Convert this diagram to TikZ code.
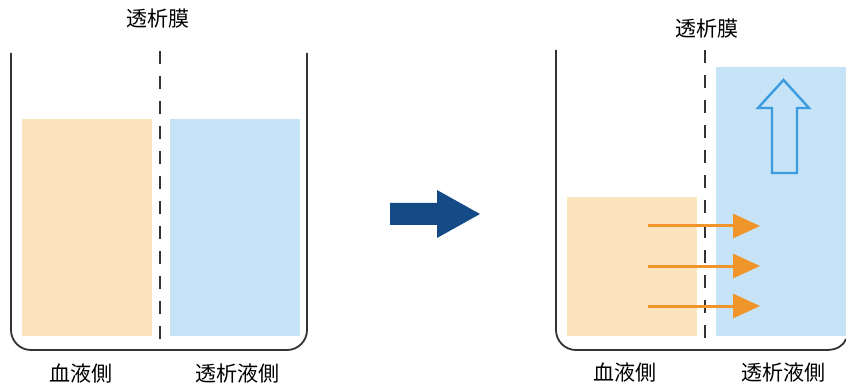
\documentclass[tikz,border=0pt]{standalone}
\usepackage{fontspec}
\newfontfamily\cjk{Noto Sans CJK JP}
\usetikzlibrary{arrows.meta}
\definecolor{bloodfill}{HTML}{FCE5BE}
\definecolor{dialfill}{HTML}{C6E3F8}
\definecolor{wallc}{HTML}{333333}
\definecolor{navy}{HTML}{144B87}
\definecolor{orarrow}{HTML}{F0952A}
\definecolor{upblue}{HTML}{3D9BE0}
\tikzset{
  wall/.style={draw=wallc, line width=1.8pt, rounded corners=20pt},
  membrane/.style={draw=wallc, line width=2.6pt, dash pattern=on 13pt off 12pt},
  lbl/.style={font=\cjk\fontsize{21pt}{23pt}\selectfont, text=black, inner sep=0pt},
  flow/.style={draw=orarrow, line width=3pt, -{Triangle[length=27pt,width=24pt]}},
}
\begin{document}
\begin{tikzpicture}[x=1pt,y=-1pt]
\useasboundingbox (0,0) rectangle (846,390);
% left container
\fill[bloodfill] (22,119) rectangle (152,336);
\fill[dialfill] (170,119) rectangle (300,336);
\draw[wall] (11,53) -- (11,350) -- (307,350) -- (307,53);
\draw[membrane] (160,51) -- (160,342);
\node[lbl] (t1) at (158,19) {透析膜};
\node[lbl] (b1) at (81,374) {血液側};
\node[lbl] (d1) at (237,374) {透析液側};
% middle arrow
\fill[navy] (390,203) -- (437,203) -- (437,190) -- (480,214) -- (437,238) -- (437,225) -- (390,225) -- cycle;
% right container
\fill[bloodfill] (567,197) rectangle (697,336);
\fill[dialfill] (716,67) rectangle (846,336);
\draw[draw=wallc, line width=1.8pt] (556,50) -- (556,330) arc[start angle=180, end angle=270, radius=20pt] -- (826,350)
  .. controls (837,350) and (843,346) .. (846,339);
\draw[membrane] (705,50) -- (705,342);
\node[lbl] (t2) at (707,29) {透析膜};
\node[lbl] (b2) at (625,373) {血液側};
\node[lbl] (d2) at (783,373) {透析液側};
% up arrow
\draw[upblue, line width=2.4pt, line join=miter]
  (772,173) -- (772,108) -- (758,108) -- (783.5,80) -- (809,108) -- (797,108) -- (797,173) -- cycle;
% flow arrows
\coordinate (s1) at (648,226); \coordinate (e1) at (760,226);
\coordinate (s2) at (648,266); \coordinate (e2) at (760,266);
\coordinate (s3) at (648,306); \coordinate (e3) at (760,306);
\draw[flow] (s1) -- (e1);
\draw[flow] (s2) -- (e2);
\draw[flow] (s3) -- (e3);
\end{tikzpicture}
\end{document}
